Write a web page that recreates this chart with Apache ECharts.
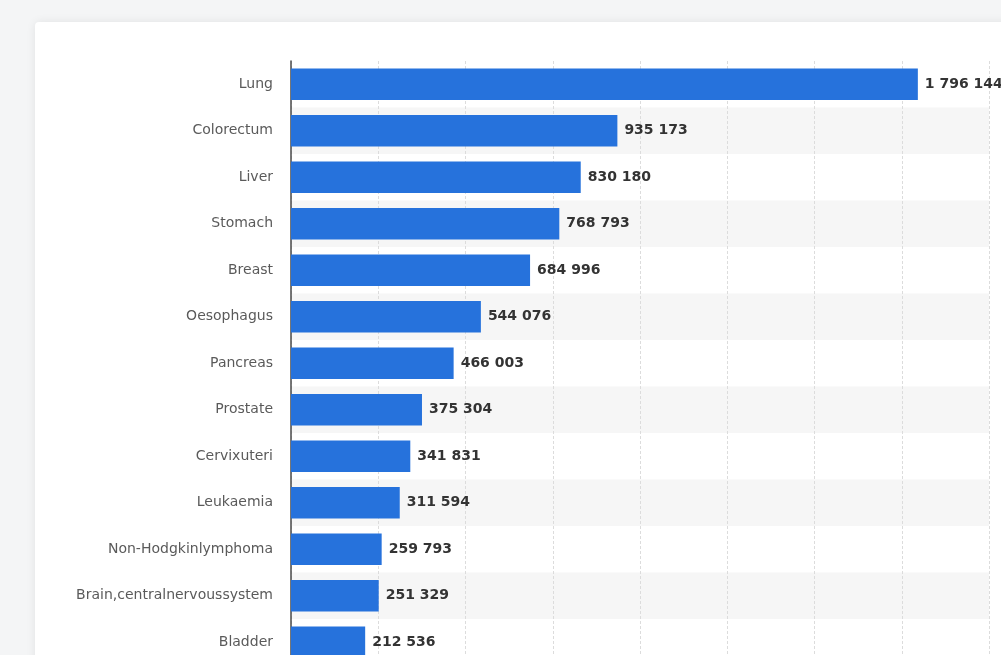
<!DOCTYPE html>
<html>
<head>
<meta charset="utf-8">
<script src="https://cdn.jsdelivr.net/npm/echarts@6/dist/echarts.min.js"></script>
<style>
    html, body {
        margin: 0;
        padding: 0;
        width: 1001px;
        height: 655px;
        overflow: hidden;
        background: #f4f5f6;
    }
    #card {
        position: absolute;
        left: 35px;
        top: 22px;
        width: 1000px;
        height: 700px;
        background: #fff;
        border-radius: 4px;
        box-shadow: 0 0 10px rgba(0, 0, 0, 0.08);
    }
    #main {
        position: absolute;
        left: 0;
        top: 0;
        width: 1001px;
        height: 700px;
    }
</style>
</head>
<body>
<div id="card"></div>
<div id="main"></div>
<script>
    // 数据
    var categories = ['Lung', 'Colorectum', 'Liver', 'Stomach', 'Breast', 'Oesophagus', 'Pancreas',
        'Prostate', 'Cervixuteri', 'Leukaemia', 'Non-Hodgkinlymphoma', 'Brain,centralnervoussystem', 'Bladder'];
    var deaths = [1796144, 935173, 830180, 768793, 684996, 544076, 466003,
        375304, 341831, 311594, 259793, 251329, 212536];

    // 千分位用空格
    function fmt(v) {
        return String(v).replace(/\B(?=(\d{3})+(?!\d))/g, ' ');
    }

    var chart = echarts.init(document.getElementById('main'));
    chart.setOption({
        animation: false,
        grid: {
            left: 291,
            right: 12,
            top: 61,
            bottom: 34.5,
            containLabel: false
        },
        xAxis: {
            type: 'value',
            min: 0,
            max: 2000000,
            interval: 250000,
            axisLabel: { show: false },
            axisLine: { show: false },
            axisTick: { show: false },
            splitLine: {
                show: true,
                lineStyle: { color: '#dcdcdc', type: [3, 2], width: 1 }
            }
        },
        yAxis: {
            type: 'category',
            inverse: true,
            data: categories,
            axisTick: { show: false },
            axisLine: {
                show: true,
                lineStyle: { color: '#4a4a4a', width: 1.5 }
            },
            axisLabel: {
                margin: 18,
                color: '#5a5a5a',
                fontSize: 14,
                fontFamily: 'DejaVu Sans'
            },
            splitArea: {
                show: true,
                areaStyle: { color: ['rgba(0,0,0,0)', '#f6f6f6'] }
            }
        },
        series: [{
            type: 'bar',
            data: deaths,
            barWidth: '68%',
            itemStyle: { color: '#2672dc' },
            label: {
                show: true,
                position: 'right',
                distance: 7,
                color: '#333',
                fontWeight: 'bold',
                fontSize: 14,
                fontFamily: 'DejaVu Sans',
                formatter: function (p) { return fmt(p.value); }
            }
        }]
    });
</script>
</body>
</html>
